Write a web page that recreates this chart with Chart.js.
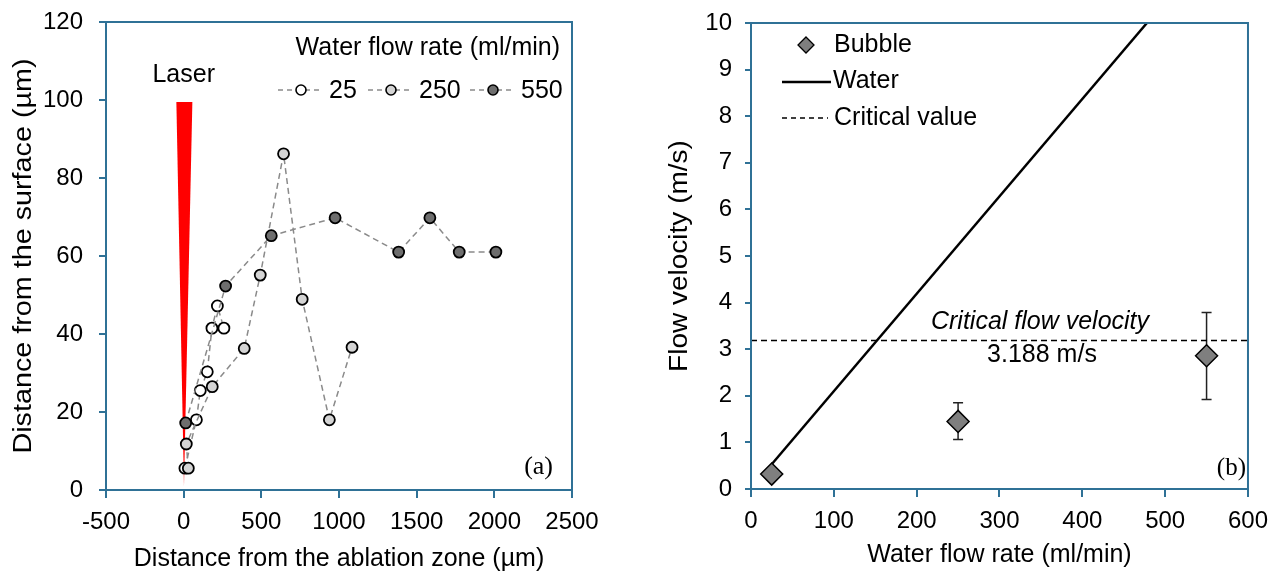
<!DOCTYPE html>
<html>
<head>
<meta charset="utf-8">
<script src="https://cdn.jsdelivr.net/npm/chart.js@4.4.0/dist/chart.umd.min.js"></script>
<style>
  html, body { margin: 0; padding: 0; background: #fff; }
  #wrap { position: relative; width: 1278px; height: 575px; }
  #left { position: absolute; left: 0; top: 0; }
  #right { position: absolute; left: 640px; top: 0; }
</style>
</head>
<body>
<div id="wrap">
  <canvas id="left" width="640" height="575"></canvas>
  <canvas id="right" width="638" height="575"></canvas>
</div>
<script>
// (a) distance from ablation zone (x, µm) vs distance from surface (y, µm)
const x25 = [8, 82, 107, 152, 182, 217, 259];
const y25 = [5.6, 18, 25.5, 30.3, 41.5, 47.2, 41.5];
const x250 = [30, 17, 184, 390, 493, 643, 763, 938, 1084];
const y250 = [5.6, 11.8, 26.5, 36.3, 55.1, 86.2, 48.9, 18, 36.6];
const x550 = [13, 270, 564, 975, 1384, 1585, 1774, 2010];
const y550 = [17.2, 52.3, 65.2, 69.8, 61, 69.8, 61, 61];
const laserX = [-47, 56, 2];
const laserY = [99.5, 99.5, 1];
const xTicksA = [-500, 0, 500, 1000, 1500, 2000, 2500];
const yTicksA = [0, 20, 40, 60, 80, 100, 120];

// (b) water flow rate (ml/min) vs flow velocity (m/s)
const bubbleX = [25, 250, 550];
const bubbleY = [0.32, 1.45, 2.86];
const bubbleLow = [0.32, 1.06, 1.92];
const bubbleHigh = [0.32, 1.85, 3.79];
const waterX = [25, 478];
const waterY = [0.53, 10];
const criticalX = [0, 600];
const criticalY = [3.188, 3.188];
const xTicksB = [0, 100, 200, 300, 400, 500, 600];
const yTicksB = [0, 1, 2, 3, 4, 5, 6, 7, 8, 9, 10];

const axisColor = '#2f7196';
const FONT = 'Liberation Sans, Arial, sans-serif';
const SERIF = 'Liberation Serif, Times New Roman, serif';

function pts(xs, ys) {
  return xs.map((x, i) => ({ x: x, y: ys[i] }));
}

function fixTicks(list) {
  return scale => { scale.ticks = list.map(v => ({ value: v })); };
}

const plain = v => String(v);

// y axis: fixed width, and no extra label padding above/below the plot
function yFit(w) {
  return s => { s.width = w; s.paddingTop = 0; s.paddingBottom = 0; };
}

// rotated y title, a bit stretched along its length like the original
function yTitle(text, cx, stretch) {
  return {
    id: 'yTitle',
    afterDraw(chart) {
      const c = chart.ctx;
      const a = chart.chartArea;
      c.save();
      c.translate(cx, (a.top + a.bottom) / 2);
      c.rotate(-Math.PI / 2);
      c.scale(stretch, 1);
      c.font = '25px ' + FONT;
      c.fillStyle = '#000';
      c.textAlign = 'center';
      c.textBaseline = 'middle';
      c.fillText(text, 0, 0);
      c.restore();
    }
  };
}

// box round the plot area (top and right sides)
const boxPlugin = {
  id: 'box',
  afterDraw(chart) {
    const a = chart.chartArea;
    const c = chart.ctx;
    c.save();
    c.strokeStyle = axisColor;
    c.lineWidth = 2;
    c.strokeRect(a.left, a.top, a.right - a.left, a.bottom - a.top);
    c.restore();
  }
};

// ---------- chart (a) ----------
const laserPlugin = {
  id: 'laser',
  beforeDatasetsDraw(chart) {
    const xs = chart.scales.x, ys = chart.scales.y, c = chart.ctx;
    c.save();
    c.fillStyle = '#ff0000';
    c.beginPath();
    laserX.forEach((v, i) => {
      const px = xs.getPixelForValue(v), py = ys.getPixelForValue(laserY[i]);
      if (i === 0) c.moveTo(px, py); else c.lineTo(px, py);
    });
    c.closePath();
    c.fill();
    c.restore();
  }
};

const legendA = {
  id: 'legendA',
  afterDraw(chart) {
    const c = chart.ctx;
    c.save();
    c.fillStyle = '#000';
    c.font = '25px ' + FONT;
    c.textBaseline = 'middle';
    c.textAlign = 'right';
    c.fillText('Water flow rate (ml/min)', 560, 48);
    c.fillText('Laser', 215, 75);
    c.font = '26px ' + SERIF;
    c.fillText('(a)', 553, 467);

    const items = [
      { label: '25', mx: 301, fill: '#ffffff' },
      { label: '250', mx: 391, fill: '#d4d4d4' },
      { label: '550', mx: 493, fill: '#6e6e6e' }
    ];
    c.font = '25px ' + FONT;
    c.textAlign = 'left';
    items.forEach(it => {
      c.strokeStyle = '#8a8a8a';
      c.lineWidth = 1.5;
      c.setLineDash([5, 4]);
      c.beginPath();
      c.moveTo(it.mx - 23, 90);
      c.lineTo(it.mx + 22, 90);
      c.stroke();
      c.setLineDash([]);
      c.beginPath();
      c.arc(it.mx, 90, 5, 0, Math.PI * 2);
      c.fillStyle = it.fill;
      c.fill();
      c.strokeStyle = '#000';
      c.lineWidth = 1.6;
      c.stroke();
      c.fillStyle = '#000';
      c.fillText(it.label, it.mx + 28, 91);
    });
    c.restore();
  }
};

function seriesA(data, fill) {
  return {
    data: data,
    showLine: true,
    borderColor: '#8a8a8a',
    borderWidth: 1.5,
    borderDash: [6, 4],
    pointRadius: 5.5,
    pointBorderWidth: 1.8,
    pointBorderColor: '#000',
    pointBackgroundColor: fill
  };
}

new Chart(document.getElementById('left'), {
  type: 'scatter',
  data: {
    datasets: [
      seriesA(pts(x550, y550), '#6e6e6e'),
      seriesA(pts(x250, y250), '#d4d4d4'),
      seriesA(pts(x25, y25), '#ffffff')
    ]
  },
  options: {
    responsive: false,
    animation: false,
    layout: { padding: { top: 22, right: 68, bottom: 0, left: 0 } },
    plugins: { legend: { display: false }, tooltip: { enabled: false } },
    scales: {
      x: {
        type: 'linear', min: -500, max: 2500,
        afterBuildTicks: fixTicks(xTicksA),
        afterFit(s) { s.height = 85; },
        ticks: { color: '#000', font: { family: FONT, size: 24 }, padding: 10, maxRotation: 0, callback: plain },
        grid: { drawOnChartArea: false, drawTicks: true, tickLength: 8, color: axisColor, lineWidth: 2 },
        border: { display: true, color: axisColor, width: 2 },
        title: {
          display: true, text: 'Distance from the ablation zone (µm)', color: '#000',
          font: { family: FONT, size: 25 }, padding: { top: 0, bottom: 1 }
        }
      },
      y: {
        type: 'linear', min: 0, max: 120,
        afterBuildTicks: fixTicks(yTicksA),
        afterFit: yFit(106),
        ticks: { color: '#000', font: { family: FONT, size: 24 }, padding: 16, callback: plain },
        grid: { drawOnChartArea: false, drawTicks: true, tickLength: 7, color: axisColor, lineWidth: 2 },
        border: { display: true, color: axisColor, width: 2 }
      }
    }
  },
  plugins: [laserPlugin, legendA, boxPlugin, yTitle('Distance from the surface (µm)', 24, 1.15)]
});

// ---------- chart (b) ----------
const errorBars = {
  id: 'errorBars',
  beforeDatasetsDraw(chart) {
    const xs = chart.scales.x, ys = chart.scales.y, c = chart.ctx;
    c.save();
    c.strokeStyle = '#222';
    c.lineWidth = 1.5;
    bubbleX.forEach((v, i) => {
      if (bubbleHigh[i] === bubbleLow[i]) return;
      const px = xs.getPixelForValue(v);
      const top = ys.getPixelForValue(bubbleHigh[i]);
      const bot = ys.getPixelForValue(bubbleLow[i]);
      c.beginPath();
      c.moveTo(px, top); c.lineTo(px, bot);
      c.moveTo(px - 5, top); c.lineTo(px + 5, top);
      c.moveTo(px - 5, bot); c.lineTo(px + 5, bot);
      c.stroke();
    });
    c.restore();
  }
};

const legendB = {
  id: 'legendB',
  afterDraw(chart) {
    const c = chart.ctx;
    const ox = -640;
    c.save();
    // Bubble diamond
    c.beginPath();
    c.moveTo(806 + ox, 37); c.lineTo(814 + ox, 45); c.lineTo(806 + ox, 53); c.lineTo(798 + ox, 45);
    c.closePath();
    c.fillStyle = '#7f7f7f';
    c.fill();
    c.strokeStyle = '#000';
    c.lineWidth = 1.3;
    c.stroke();
    // Water solid
    c.lineWidth = 2.5;
    c.beginPath(); c.moveTo(782 + ox, 82); c.lineTo(831 + ox, 82); c.stroke();
    // Critical dashed
    c.lineWidth = 1.5;
    c.setLineDash([5, 4]);
    c.beginPath(); c.moveTo(782 + ox, 118); c.lineTo(828 + ox, 118); c.stroke();
    c.setLineDash([]);

    c.fillStyle = '#000';
    c.font = '25px ' + FONT;
    c.textBaseline = 'middle';
    c.textAlign = 'left';
    c.fillText('Bubble', 834 + ox, 45);
    c.fillText('Water', 833 + ox, 81);
    c.fillText('Critical value', 834 + ox, 118);

    c.textAlign = 'center';
    c.font = 'italic 25px ' + FONT;
    c.fillText('Critical flow velocity', 1040 + ox, 322);
    c.font = '25px ' + FONT;
    c.fillText('3.188 m/s', 1042 + ox, 355);
    c.font = '25px ' + SERIF;
    c.textAlign = 'right';
    c.fillText('(b)', 1246 + ox, 468);
    c.restore();
  }
};

new Chart(document.getElementById('right'), {
  type: 'scatter',
  data: {
    datasets: [
      {
        label: 'Bubble',
        data: pts(bubbleX, bubbleY),
        pointStyle: 'rectRot',
        pointRadius: 11,
        pointBackgroundColor: '#7f7f7f',
        pointBorderColor: '#000',
        pointBorderWidth: 1.5
      },
      {
        label: 'Water',
        data: pts(waterX, waterY),
        showLine: true,
        borderColor: '#000',
        borderWidth: 2.5,
        pointRadius: 0
      },
      {
        label: 'Critical value',
        data: pts(criticalX, criticalY),
        showLine: true,
        borderColor: '#000',
        borderWidth: 1.6,
        borderDash: [6, 4],
        pointRadius: 0
      }
    ]
  },
  options: {
    responsive: false,
    animation: false,
    layout: { padding: { top: 23, right: 27, bottom: 0, left: 0 } },
    plugins: { legend: { display: false }, tooltip: { enabled: false } },
    scales: {
      x: {
        type: 'linear', min: 0, max: 600,
        afterBuildTicks: fixTicks(xTicksB),
        afterFit(s) { s.height = 86; },
        ticks: { color: '#000', font: { family: FONT, size: 24 }, padding: 10, maxRotation: 0, callback: plain },
        grid: { drawOnChartArea: false, drawTicks: true, tickLength: 8, color: axisColor, lineWidth: 2 },
        border: { display: true, color: axisColor, width: 2 },
        title: {
          display: true, text: 'Water flow rate (ml/min)', color: '#000',
          font: { family: FONT, size: 25 }, padding: { top: 0, bottom: 5 }
        }
      },
      y: {
        type: 'linear', min: 0, max: 10,
        afterBuildTicks: fixTicks(yTicksB),
        afterFit: yFit(111),
        ticks: { color: '#000', font: { family: FONT, size: 24 }, padding: 13, callback: plain },
        grid: { drawOnChartArea: false, drawTicks: true, tickLength: 6, color: axisColor, lineWidth: 2 },
        border: { display: true, color: axisColor, width: 2 }
      }
    }
  },
  plugins: [errorBars, legendB, boxPlugin, yTitle('Flow velocity (m/s)', 40, 1.12)]
});
</script>
</body>
</html>
